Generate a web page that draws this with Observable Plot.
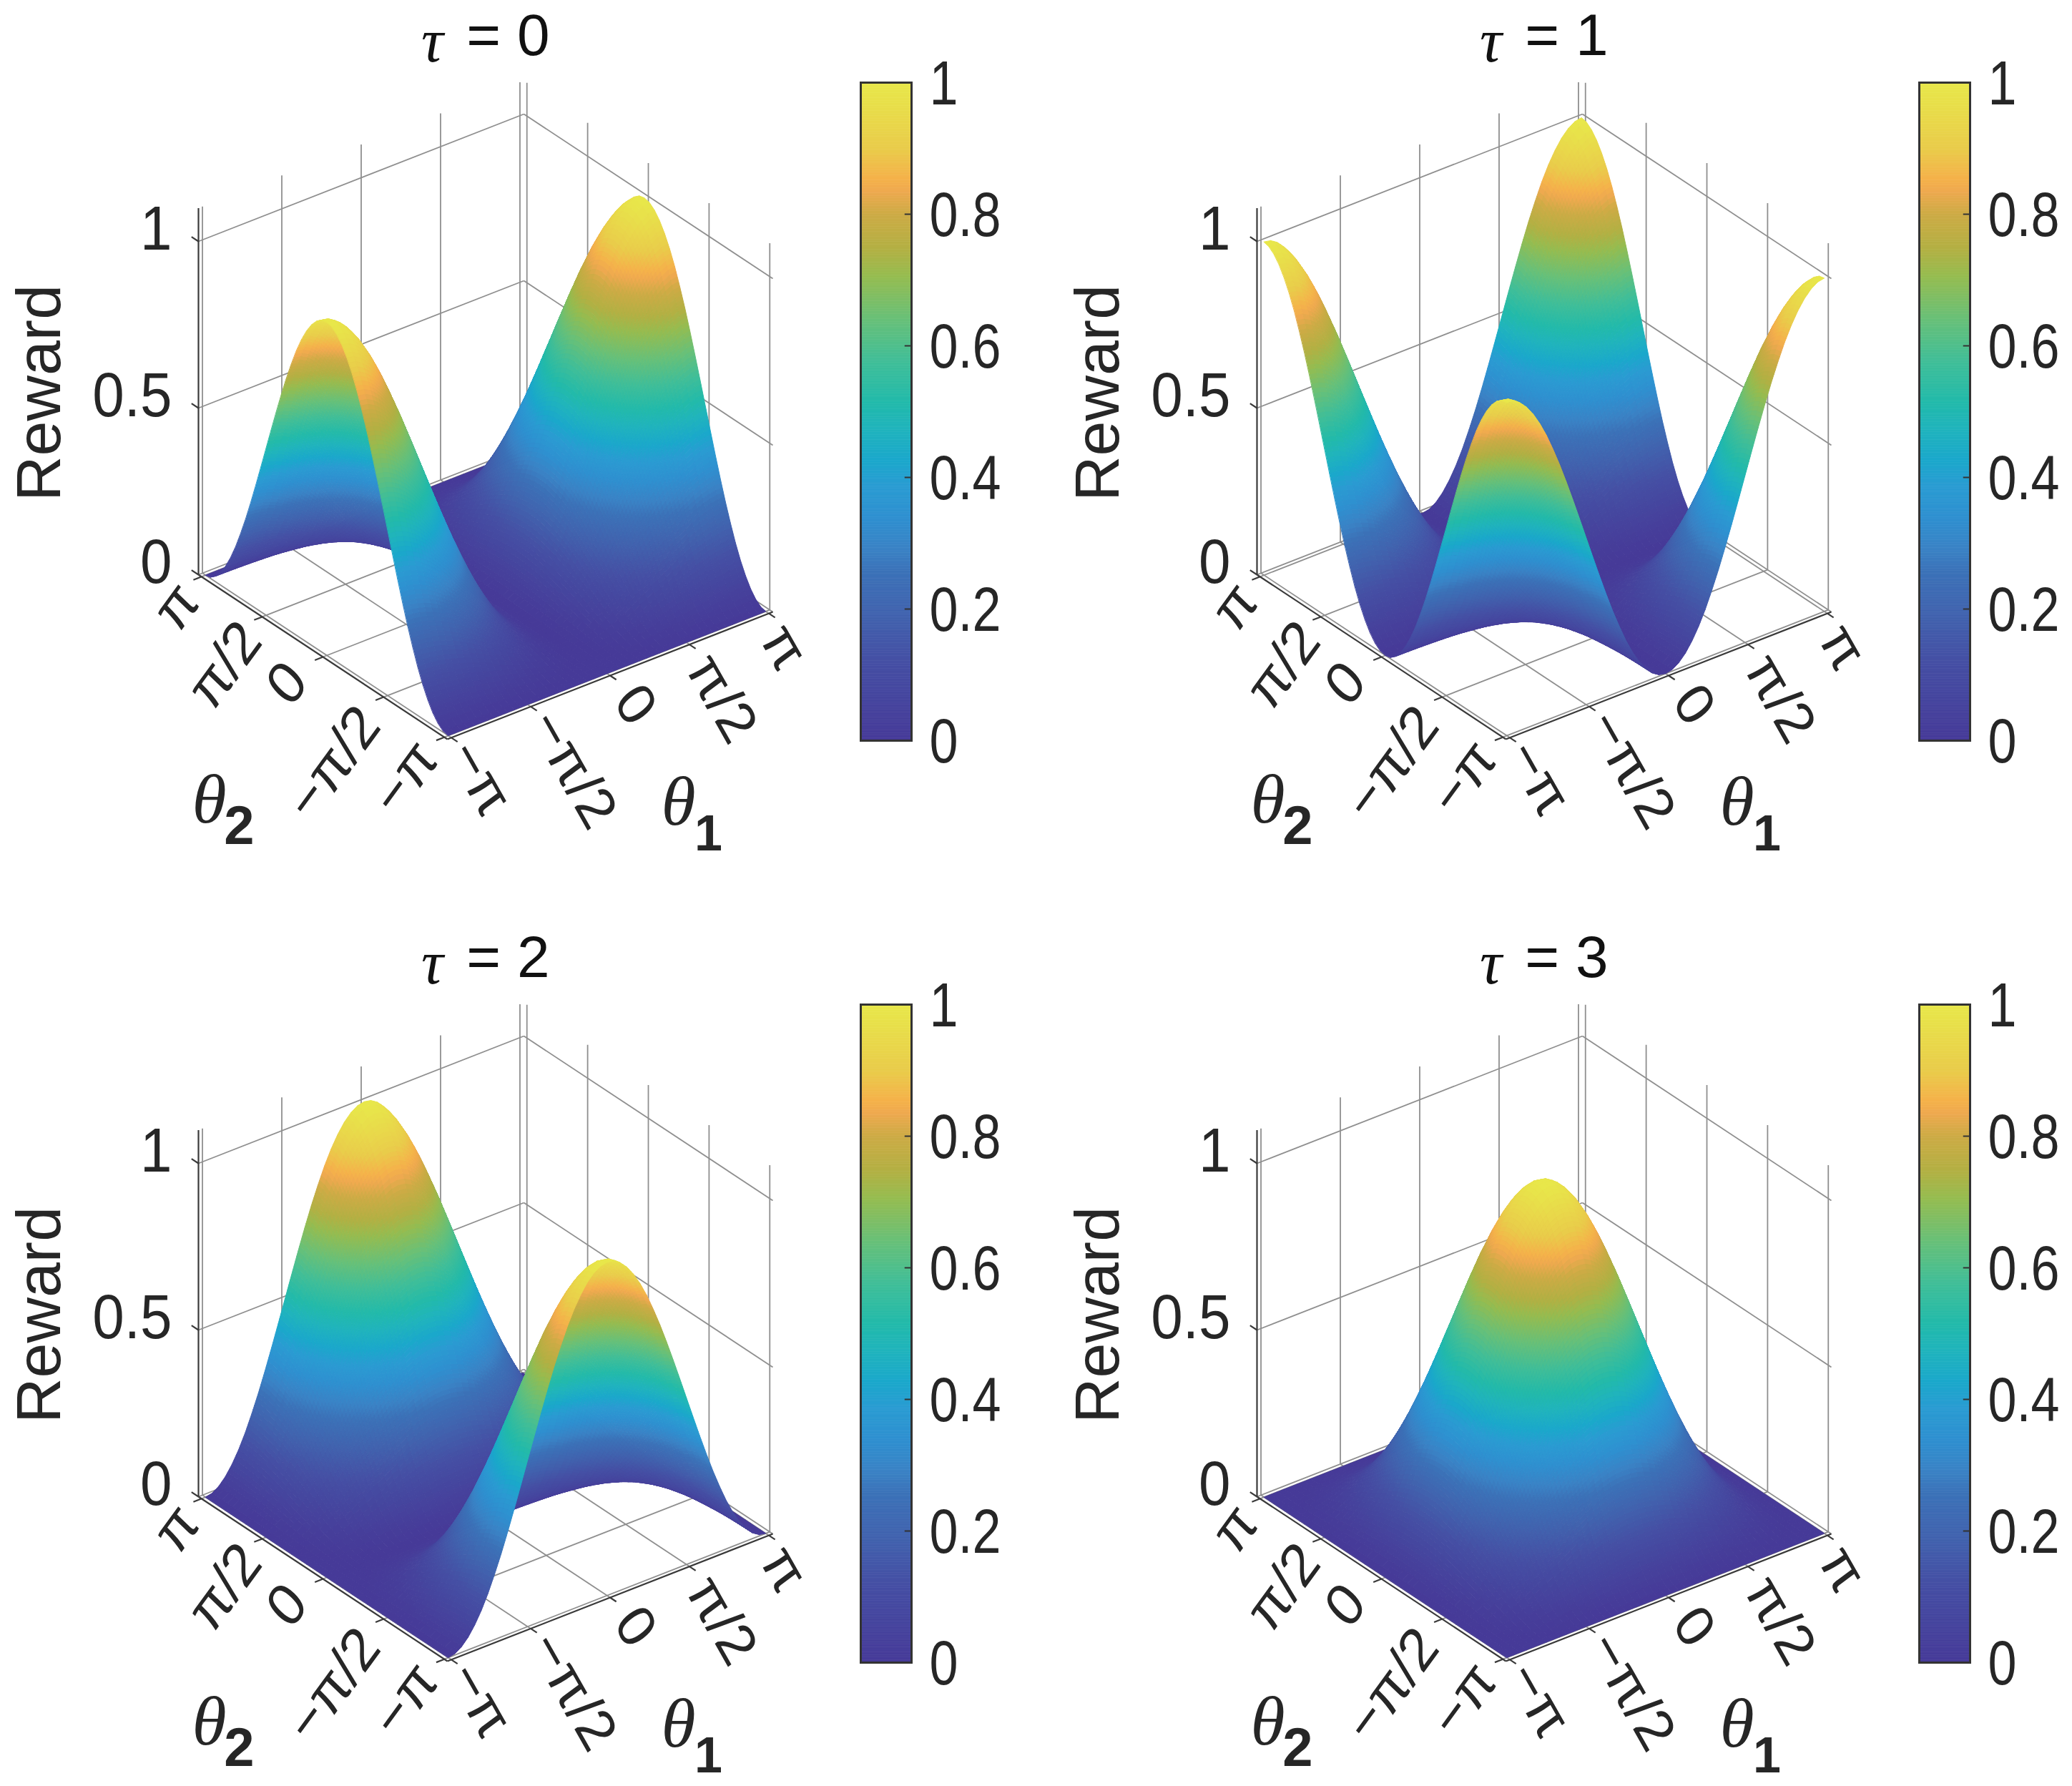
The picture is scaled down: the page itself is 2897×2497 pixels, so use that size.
<!DOCTYPE html>
<html>
<head>
<meta charset="utf-8">
<script src="https://cdn.jsdelivr.net/npm/d3@7"></script>
<script src="https://cdn.jsdelivr.net/npm/@observablehq/plot@0.6"></script>
<style>
  html, body { margin: 0; padding: 0; background: #fff; }
  #page { position: relative; width: 2897px; height: 2497px; background: #fff; overflow: hidden; }
  #page svg { position: absolute; background: transparent; }
</style>
</head>
<body>
<div id="page"></div>
<script>
// Values: the surface's edge profile, at 7.5 degree steps from -180 to 180.
const rewardPeakCentre = [
  0, 0.004, 0.017, 0.038, 0.067, 0.103, 0.146, 0.196, 0.25, 0.309, 0.371, 0.435,
  0.5, 0.565, 0.629, 0.691, 0.75, 0.804, 0.854, 0.897, 0.933, 0.962, 0.983, 0.996,
  1,
  0.996, 0.983, 0.962, 0.933, 0.897, 0.854, 0.804, 0.75, 0.691, 0.629, 0.565, 0.5,
  0.435, 0.371, 0.309, 0.25, 0.196, 0.146, 0.103, 0.067, 0.038, 0.017, 0.004, 0
];
const rewardPeakEnds = [
  1, 0.996, 0.983, 0.962, 0.933, 0.897, 0.854, 0.804, 0.75, 0.691, 0.629, 0.565,
  0.5, 0.435, 0.371, 0.309, 0.25, 0.196, 0.146, 0.103, 0.067, 0.038, 0.017, 0.004,
  0,
  0.004, 0.017, 0.038, 0.067, 0.103, 0.146, 0.196, 0.25, 0.309, 0.371, 0.435, 0.5,
  0.565, 0.629, 0.691, 0.75, 0.804, 0.854, 0.897, 0.933, 0.962, 0.983, 0.996, 1
];
const taus = [0, 1, 2, 3];
const theta1Profiles = [rewardPeakEnds, rewardPeakEnds, rewardPeakCentre, rewardPeakCentre];
const theta2Profiles = [rewardPeakCentre, rewardPeakEnds, rewardPeakEnds, rewardPeakCentre];
const thetaTicks = [-Math.PI, -Math.PI / 2, 0, Math.PI / 2, Math.PI];
const thetaTickLabels = ["−π", "−π/2", "0", "π/2", "π"];
const rewardAxisTicks = [0, 0.5, 1];
const rewardAxisLabels = ["0", "0.5", "1"];
const colorbarTicks = [0, 0.2, 0.4, 0.6, 0.8, 1];
const colorStops = [0, 0.12, 0.19, 0.257, 0.29, 0.34, 0.386, 0.427, 0.475, 0.515, 0.576, 0.64, 0.705, 0.746, 0.80, 0.835, 0.855, 0.90, 1];
const colorValues = ["#463a98", "#454fa4", "#4162ae", "#3b72b8", "#3a82c5", "#2e90d0", "#2a9bd2", "#1aa8cb", "#20b4bc", "#22baaa", "#40be98", "#68c078", "#95bc50", "#b2b043", "#cdab45", "#efa94f", "#f5b24a", "#e9cc4a", "#e8e84a"];

// Layout and view of the 3-D box (orthographic, as in the reference)
const sans = "Liberation Sans, Arial, sans-serif";
const serif = "Liberation Serif, Times New Roman, serif";
const ink = "#262626";
const lim = 3.22, zTop = 1.1;
const W = 1190, H = 1208, Cx = 678.5, Cy = 829;
const thetaFont = 74, rewardFont = 80, barFont = 72;
const verticalStretch = {[thetaFont]: 1.15, [rewardFont]: 1.09, [barFont]: 1.2}; // the reference's digits are taller than they are wide
const panelLeft = [0, 1480, 0, 1480], panelTop = [0, 0, 1289, 1289];
const colorScale = {type: "linear", domain: colorStops, range: colorValues, clamp: true};
const vx = (t1, t2) => t1 * 455 / (2 * lim) - t2 * 348 / (2 * lim);
const vy = (t1, t2, r) => t1 * 178 / (2 * lim) + t2 * 230 / (2 * lim) + r * 466;

function surfaceMesh(p1, p2) {
  const n = p1.length - 1, th = i => -Math.PI + i * 2 * Math.PI / n;
  const X = [], Y = [], G = [], F = [];
  let id = 0;
  const put = (a, b, z) => { X.push(vx(a, b)); Y.push(vy(a, b, z)); };
  for (let i = n - 1; i >= 0; --i) for (let j = n - 1; j >= 0; --j) {
    const z00 = p1[i] * p2[j], z10 = p1[i + 1] * p2[j], z01 = p1[i] * p2[j + 1], z11 = p1[i + 1] * p2[j + 1];
    const nu = Math.min(12, Math.max(1, Math.ceil(Math.max(Math.abs(z10 - z00), Math.abs(z11 - z01)) / 0.013)));
    const nv = Math.min(12, Math.max(1, Math.ceil(Math.max(Math.abs(z01 - z00), Math.abs(z11 - z10)) / 0.013)));
    const zAt = (s, t) => (z00 * (1 - s) + z10 * s) * (1 - t) + (z01 * (1 - s) + z11 * s) * t;
    const a0 = th(i), a1 = th(i + 1), b0 = th(j), b1 = th(j + 1);
    for (let a = nu - 1; a >= 0; --a) for (let b = nv - 1; b >= 0; --b) {
      const s0 = a / nu, s1 = (a + 1) / nu, t0 = b / nv, t1 = (b + 1) / nv;
      const A0 = a0 + (a1 - a0) * s0, A1 = a0 + (a1 - a0) * s1, B0 = b0 + (b1 - b0) * t0, B1 = b0 + (b1 - b0) * t1;
      const zs = [zAt(s0, t0), zAt(s1, t0), zAt(s1, t1), zAt(s0, t1)];
      const c = d3.mean(zs);
      put(A0, B0, zs[0]); put(A1, B0, zs[1]); put(A1, B1, zs[2]); put(A0, B1, zs[3]);
      for (let k = 0; k < 4; ++k) { G.push(id); F.push(c); }
      ++id;
    }
  }
  return {length: G.length, X, Y, G, F};
}

function seg(t1a, t2a, ra, t1b, t2b, rb) {
  return {x1: vx(t1a, t2a), y1: vy(t1a, t2a, ra), x2: vx(t1b, t2b), y2: vy(t1b, t2b, rb)};
}

function link(segments, stroke, strokeWidth) {
  return Plot.link(segments, {x1: "x1", y1: "y1", x2: "x2", y2: "y2", stroke: () => stroke, strokeWidth});
}

// Stretch a plot's tick labels in screen space, as the reference's are.
function stretchLabels(svg) {
  svg.querySelectorAll("g[font-size]").forEach(g => {
    const s = verticalStretch[+g.getAttribute("font-size")];
    if (!s) return;
    g.querySelectorAll("text").forEach(t => {
      const tr = t.getAttribute("transform") || "";
      t.setAttribute("transform", tr.replace(/^(translate\([^)]*\))/, `$1 scale(1,${s})`));
    });
  });
  return svg;
}

function panelPlot(k) {
  const m = surfaceMesh(theta1Profiles[k], theta2Profiles[k]);
  const grid = [
    ...thetaTicks.map(t => seg(t, -lim, 0, t, lim, 0)),
    ...thetaTicks.map(t => seg(-lim, t, 0, lim, t, 0)),
    ...thetaTicks.map(t => seg(t, lim, 0, t, lim, zTop)),
    ...thetaTicks.map(t => seg(lim, t, 0, lim, t, zTop)),
    ...rewardAxisTicks.flatMap(r => [seg(-lim, lim, r, lim, lim, r), seg(lim, lim, r, lim, -lim, r)])
  ];
  const axes = [
    seg(-lim, lim, 0, -lim, -lim, 0),
    seg(-lim, -lim, 0, lim, -lim, 0),
    seg(-lim, lim, 0, -lim, lim, zTop),
    ...thetaTicks.map(t => seg(-lim, t, 0, -lim - 0.16, t, 0)),
    ...thetaTicks.map(t => seg(t, -lim, 0, t, -lim - 0.16, 0)),
    ...rewardAxisTicks.map(r => seg(-lim, lim, r, -lim, lim + 0.18, r))
  ];
  const theta2Off = [[-55, 57], [-70, 93], [-50, 37], [-52, 68], [-35, 42]];
  const theta1Off = [[40, 56], [59, 87], [35, 41], [45, 75], [21, 47]];
  const theta2Text = thetaTicks.map((t, i) => ({x: vx(-lim, t) + theta2Off[i][0], y: vy(-lim, t, 0) - theta2Off[i][1], s: thetaTickLabels[i]}));
  const theta1Text = thetaTicks.map((t, i) => ({x: vx(t, -lim) + theta1Off[i][0], y: vy(t, -lim, 0) - theta1Off[i][1], s: thetaTickLabels[i]}));
  const rewardText = rewardAxisTicks.map((r, i) => ({x: vx(-lim, lim) - 37, y: vy(-lim, lim, r) + 16, s: rewardAxisLabels[i]}));
  const at = (left, top, s, o) => Plot.text([s], {frameAnchor: "top-left", dx: left, dy: top, text: d => d, textAnchor: "middle", lineAnchor: "middle", fill: ink, ...o});
  return stretchLabels(Plot.plot({
    width: W, height: H, margin: 0,
    style: {fontFamily: sans, background: "transparent"},
    x: {domain: [-Cx, W - Cx], range: [0, W], axis: null},
    y: {domain: [Cy, Cy - H], range: [0, H], axis: null},
    color: colorScale,
    marks: [
      link(grid, "#8f8f8f", 1.8),
      link(axes, "#3a3a3a", 2.2),
      Plot.line(m, {x: m.X, y: m.Y, z: m.G, fill: m.F, stroke: m.F, strokeWidth: 1, curve: "linear-closed"}),
      Plot.text(theta2Text, {x: "x", y: "y", text: "s", rotate: -50, fontSize: thetaFont, fill: ink, textAnchor: "middle", lineAnchor: "middle"}),
      Plot.text(theta1Text, {x: "x", y: "y", text: "s", rotate: 57, fontSize: thetaFont, fill: ink, textAnchor: "middle", lineAnchor: "middle"}),
      Plot.text(rewardText, {x: "x", y: "y", text: "s", fontSize: rewardFont, fill: ink, textAnchor: "end", lineAnchor: "middle"}),
      at(604, 58, "τ", {fontFamily: serif, fontStyle: "italic", fontSize: 86, fill: "#111"}),
      at(710, 50, `= ${taus[k]}`, {fontSize: 82, fill: "#111"}),
      at(55, 549, "Reward", {rotate: -90, fontSize: 88}),
      at(292, 1118, "θ", {fontFamily: serif, fontStyle: "italic", fontSize: 98}),
      at(334, 1155, "2", {fontWeight: "bold", fontSize: 76}),
      at(948, 1121, "θ", {fontFamily: serif, fontStyle: "italic", fontSize: 98}),
      at(990, 1166, "1", {fontWeight: "bold", fontSize: 70})
    ]
  }));
}

function colorbarPlot() {
  const bins = d3.range(256);
  return stretchLabels(Plot.plot({
    width: 290, height: 1040, marginLeft: 13, marginRight: 206, marginTop: 60, marginBottom: 60,
    style: {fontFamily: sans, background: "transparent"},
    x: {domain: [0, 1], axis: null},
    y: {domain: [0, 1], axis: null},
    color: colorScale,
    marks: [
      Plot.rect(bins, {x1: 0, x2: 1, y1: d => d / 256, y2: d => (d + 1) / 256, fill: d => (d + 0.5) / 256, stroke: d => (d + 0.5) / 256, strokeWidth: 0.6}),
      Plot.ruleY(colorbarTicks, {x1: 0.87, x2: 1, stroke: "#333", strokeWidth: 2}),
      Plot.frame({stroke: "#333", strokeWidth: 3}),
      Plot.axisY({anchor: "right", ticks: colorbarTicks, tickSize: 0, tickPadding: 25, dy: 3, tickFormat: d => String(d), fontSize: barFont, color: ink})
    ]
  }));
}

const page = document.getElementById("page");
taus.forEach((tau, k) => {
  const p = panelPlot(k);
  p.style.left = panelLeft[k] + "px";
  p.style.top = panelTop[k] + "px";
  page.appendChild(p);
  const c = colorbarPlot();
  c.style.left = (panelLeft[k] + 1190) + "px";
  c.style.top = (panelTop[k] + 55) + "px";
  page.appendChild(c);
});
</script>
</body>
</html>
